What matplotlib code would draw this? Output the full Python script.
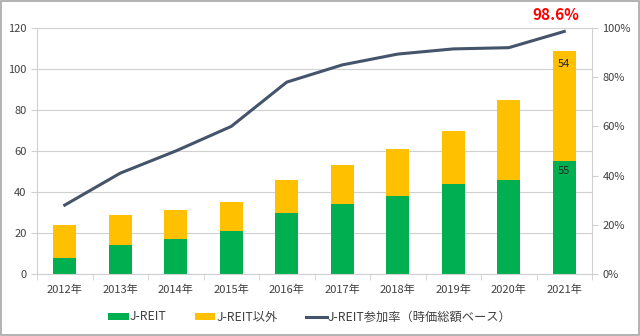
import numpy as np
import matplotlib.pyplot as plt
from matplotlib.patches import Rectangle

plt.rcParams['font.family'] = ['Noto Sans CJK JP', 'DejaVu Sans']

years = ['2012年', '2013年', '2014年', '2015年', '2016年',
         '2017年', '2018年', '2019年', '2020年', '2021年']
jreit = [8, 14, 17, 21, 30, 34, 38, 44, 46, 55]
other = [16, 15, 14, 14, 16, 19, 23, 26, 39, 54]
rate = [28, 41, 50, 60, 78, 85, 89.4, 91.5, 92, 98.6]

GREEN = '#00B050'
YELLOW = '#FFC000'
LINE = '#44546A'
TXT = '#404040'

fig = plt.figure(figsize=(6.4, 3.36), dpi=100)
fig.patches.append(Rectangle((0.002, 0.003), 0.996, 0.994, transform=fig.transFigure,
                             fill=False, edgecolor='#A6A6A6', lw=1.2))
ax = fig.add_axes([37 / 640, 1 - 274 / 336, 555 / 640, 246 / 336])
x = np.arange(len(years))

b1 = ax.bar(x, jreit, width=0.42, color=GREEN, zorder=2, label='J-REIT')
b2 = ax.bar(x, other, width=0.42, bottom=jreit, color=YELLOW, zorder=2, label='J-REIT以外')
ax.set_ylim(0, 120)
ax.set_xlim(-0.5, len(years) - 0.5)
ax.set_yticks(range(0, 121, 20))
ax.grid(axis='y', color='#D0D0D0', lw=0.8, zorder=0)
ax.set_xticks(x)
ax.set_xticklabels(years)
ax.set_xticks(np.arange(-0.5, len(years), 1), minor=True)
ax.tick_params(axis='x', which='major', length=0, labelsize=8, colors=TXT, pad=8)
ax.tick_params(axis='x', which='minor', length=4, color='#D0D0D0')
ax.tick_params(axis='y', length=4, color='#D0D0D0', labelsize=8, colors=TXT)
for side in ['top', 'right']:
    ax.spines[side].set_visible(False)
for side in ['left', 'bottom']:
    ax.spines[side].set_color('#D0D0D0')

ax2 = ax.twinx()
ln, = ax2.plot(x, rate, color=LINE, lw=2.2, zorder=3, label='J-REIT参加率（時価総額ベース）')
ax2.set_ylim(0, 100)
ax2.set_yticks(range(0, 101, 20))
ax2.set_yticklabels([f'{v}%' for v in range(0, 101, 20)])
ax2.tick_params(axis='y', length=4, color='#D0D0D0', labelsize=8, colors=TXT)
for side in ['top', 'left', 'bottom']:
    ax2.spines[side].set_visible(False)
ax2.spines['right'].set_color('#D0D0D0')

# data labels on the last bar
ax.text(x[-1], jreit[-1] + other[-1] - 6.5, str(other[-1]), ha='center', va='center',
        fontsize=8, color='#262626', zorder=4)
ax.text(x[-1], jreit[-1] - 5, str(jreit[-1]), ha='center', va='center',
        fontsize=8, color='#262626', zorder=4)
ax2.text(x[-1] - 0.16, rate[-1] + 3.5, f'{rate[-1]}%', ha='center', va='bottom', fontsize=11,
         fontweight='bold', color='#FF0000')

fig.legend(handles=[b1, b2, ln], loc='center', bbox_to_anchor=(0.484, 1 - 317 / 336), ncol=3,
           frameon=False, fontsize=8.8, handlelength=1.7, handleheight=0.5, columnspacing=2.3,
           handletextpad=0.1, labelcolor=TXT)

fig.savefig('out.png', dpi=100)
